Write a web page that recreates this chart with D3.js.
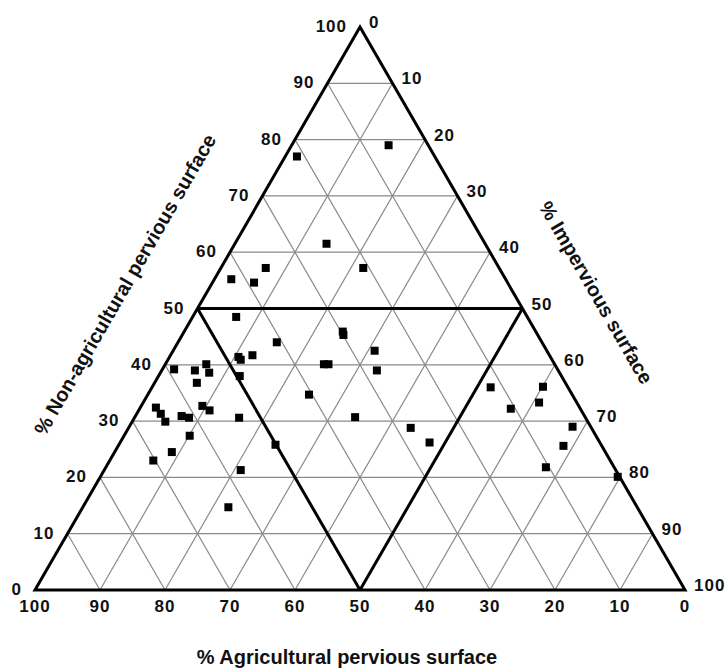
<!DOCTYPE html>
<html>
<head>
<meta charset="utf-8">
<script src="https://cdn.jsdelivr.net/npm/d3@7"></script>
<style>
    body { margin: 0; background: #fff; }
    text { font-family: "Liberation Sans", Arial, sans-serif; font-weight: bold; fill: #111; }
</style>
</head>
<body>
<div id="chart"></div>
<script>
// composition of each site, in percent (agricultural + non-agricultural + impervious = 100)
const agricultural = [21.2, 6.1, 24.4, 20.9, 35.9, 42.2, 39.0, 44.8, 40.8, 45.7,
    48.0, 47.9, 49.5, 59.0, 55.9, 53.6, 53.9, 56.7, 65.2, 65.0,
    65.0, 62.0, 61.0, 57.9, 57.2, 53.3, 62.5, 66.7, 70.3, 50.1,
    57.7, 62.9, 29.7, 29.9, 26.5, 35.5, 34.8, 27.9, 40.5, 35.4,
    27.8, 26.2, 11.9, 3.8, 10.7, 5.8, 2.8, 5.9, 10.5, 0.3];
const nonAgricultural = [77.0, 79.0, 61.5, 57.2, 57.2, 55.2, 54.6, 48.5, 44.0, 41.7,
    41.4, 40.9, 38.0, 39.2, 39.0, 40.1, 38.6, 36.8, 32.4, 31.3,
    29.9, 30.9, 30.6, 32.7, 31.9, 30.6, 27.4, 24.5, 23.0, 25.8,
    21.3, 14.7, 45.9, 45.3, 42.5, 40.1, 40.1, 39.0, 34.7, 30.7,
    28.8, 26.2, 36.0, 36.1, 32.2, 33.3, 29.0, 25.6, 21.8, 20.1];
const impervious = [1.8, 14.9, 14.1, 21.9, 6.9, 2.6, 6.4, 6.7, 15.2, 12.6,
    10.6, 11.2, 12.5, 1.8, 5.1, 6.3, 7.5, 6.5, 2.4, 3.7,
    5.1, 7.1, 8.4, 9.4, 10.9, 16.1, 10.1, 8.8, 6.7, 24.1,
    21.0, 22.4, 24.4, 24.8, 31.0, 24.4, 25.1, 33.1, 24.8, 33.9,
    43.4, 47.6, 52.1, 60.1, 57.1, 60.9, 68.2, 68.5, 67.7, 79.6];

const ticks = [0, 10, 20, 30, 40, 50, 60, 70, 80, 90, 100];
const gridLevels = [10, 20, 30, 40, 50, 60, 70, 80, 90];

const titleBottom = "% Agricultural pervious surface";
const titleLeft = "% Non-agricultural pervious surface";
const titleRight = "% Impervious surface";

window.onload = function () {
    drawTernary();
};

function drawTernary() {

    let width = 728,
        height = 668;

    // the triangle: bottom-left = agricultural 100, bottom-right = impervious 100, top = non-agricultural 100
    let x = d3.scaleLinear().domain([0, 100]).range([35, 685]);
    let y = d3.scaleLinear().domain([0, 100]).range([590, 27]);

    function project(a, n, i) {
        let s = a + n + i;
        n = n / s * 100;
        i = i / s * 100;
        return [x(i + n / 2), y(n)];
    }

    let line = d3.line();

    let svg = d3.select("#chart")
        .append("svg")
        .attr("width", width)
        .attr("height", height);

    // thin grid lines, three directions
    let grid = [];
    gridLevels.forEach(function (k) {
        grid.push([project(100 - k, k, 0), project(0, k, 100 - k)]);   // constant non-agricultural
        grid.push([project(100 - k, 0, k), project(0, 100 - k, k)]);   // constant impervious
        grid.push([project(k, 0, 100 - k), project(k, 100 - k, 0)]);   // constant agricultural
    });
    svg.append("g")
        .selectAll("path")
        .data(grid)
        .enter()
        .append("path")
        .attr("d", line)
        .attr("stroke", "#8a8a8a")
        .attr("stroke-width", 1.2)
        .attr("fill", "none");

    // heavy class boundaries (50 % lines)
    let bounds = [
        [project(50, 50, 0), project(0, 50, 50)],
        [project(50, 50, 0), project(50, 0, 50)],
        [project(0, 50, 50), project(50, 0, 50)]
    ];
    svg.append("g")
        .selectAll("path")
        .data(bounds)
        .enter()
        .append("path")
        .attr("d", line)
        .attr("stroke", "#000")
        .attr("stroke-width", 3)
        .attr("fill", "none");

    // outline
    svg.append("path")
        .attr("d", line([project(100, 0, 0), project(0, 0, 100), project(0, 100, 0)]) + "Z")
        .attr("stroke", "#000")
        .attr("stroke-width", 3)
        .attr("stroke-linejoin", "miter")
        .attr("fill", "none");

    // tick labels
    let labels = svg.append("g").style("font-size", "17px").style("letter-spacing", "1px");

    // left side: non-agricultural
    labels.selectAll("leftLabels")
        .data(ticks)
        .enter()
        .append("text")
        .attr("x", function (d) { return project(100 - d, d, 0)[0] - 13; })
        .attr("y", function (d) { return project(100 - d, d, 0)[1] + 5; })
        .attr("text-anchor", "end")
        .text(function (d) { return d; });

    // right side: impervious
    labels.selectAll("rightLabels")
        .data(ticks)
        .enter()
        .append("text")
        .attr("x", function (d) { return project(0, 100 - d, d)[0] + 9; })
        .attr("y", function (d) { return project(0, 100 - d, d)[1] + 1; })
        .attr("text-anchor", "start")
        .text(function (d) { return d; });

    // bottom: agricultural
    labels.selectAll("bottomLabels")
        .data(ticks)
        .enter()
        .append("text")
        .attr("x", function (d) { return project(d, 0, 100 - d)[0]; })
        .attr("y", 612)
        .attr("text-anchor", "middle")
        .text(function (d) { return d; });

    // axis titles
    svg.append("text")
        .attr("x", 347)
        .attr("y", 664)
        .attr("text-anchor", "middle")
        .style("font-size", "20px")
        .text(titleBottom);

    svg.append("text")
        .attr("text-anchor", "middle")
        .attr("transform", "translate(131,288) rotate(-60)")
        .style("font-size", "20px")
        .text(titleLeft);

    svg.append("text")
        .attr("text-anchor", "middle")
        .attr("transform", "translate(590,296) rotate(60)")
        .style("font-size", "20px")
        .text(titleRight);

    // sites
    let size = 8;
    svg.append("g")
        .selectAll("rect")
        .data(agricultural.map(function (a, k) { return project(a, nonAgricultural[k], impervious[k]); }))
        .enter()
        .append("rect")
        .attr("x", function (d) { return d[0] - size / 2; })
        .attr("y", function (d) { return d[1] - size / 2; })
        .attr("width", size)
        .attr("height", size)
        .attr("fill", "#000");
}
</script>
</body>
</html>
